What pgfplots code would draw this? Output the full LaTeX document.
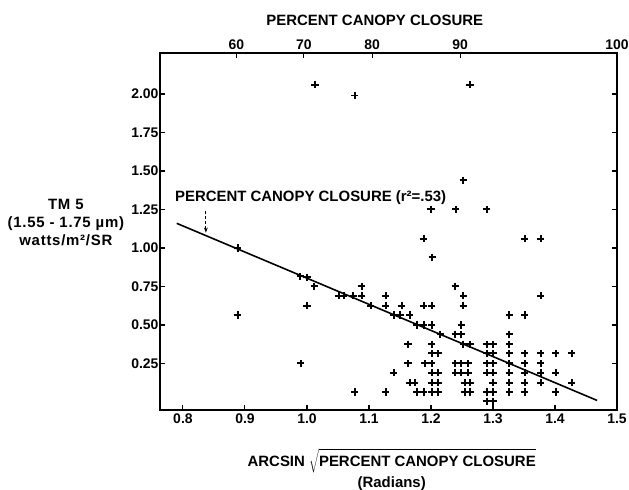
\documentclass[border=0pt]{standalone}
\usepackage{fontspec}
\setmainfont{Liberation Sans}
\newfontfamily\spaced[LetterSpace=5]{Liberation Sans}
\usepackage{pgfplots}
\pgfplotsset{compat=1.18}
\usetikzlibrary{arrows.meta}

\pgfplotstableread{
x y
1.013 2.06
1.077 1.99
1.263 2.06
1.252 1.44
1.200 1.25
1.240 1.25
1.290 1.25
1.188 1.06
1.202 0.94
1.351 1.06
1.377 1.06
1.377 0.69
0.888 1.00
0.888 0.565
0.989 0.815
1.000 0.81
1.000 0.625
1.012 0.75
0.990 0.25
1.051 0.69
1.059 0.69
1.075 0.69
1.088 0.75
1.088 0.69
1.103 0.625
1.127 0.69
1.127 0.625
1.077 0.065
1.127 0.065
1.140 0.565
1.150 0.565
1.166 0.565
1.153 0.625
1.140 0.19
1.163 0.375
1.163 0.25
1.166 0.125
1.174 0.125
1.188 0.625
1.201 0.625
1.177 0.50
1.188 0.50
1.201 0.50
1.201 0.375
1.201 0.315
1.212 0.315
1.190 0.25
1.201 0.25
1.201 0.19
1.212 0.19
1.201 0.125
1.212 0.125
1.177 0.065
1.188 0.065
1.201 0.065
1.212 0.065
1.215 0.44
1.239 0.75
1.252 0.69
1.252 0.625
1.249 0.50
1.239 0.44
1.249 0.44
1.252 0.375
1.263 0.375
1.239 0.25
1.249 0.25
1.260 0.25
1.239 0.19
1.249 0.19
1.260 0.19
1.255 0.125
1.263 0.125
1.255 0.065
1.263 0.065
1.290 0.375
1.300 0.375
1.290 0.315
1.300 0.315
1.290 0.25
1.300 0.25
1.290 0.19
1.300 0.19
1.300 0.125
1.290 0.065
1.300 0.065
1.290 0.005
1.300 0.005
1.326 0.565
1.326 0.44
1.326 0.375
1.326 0.315
1.326 0.25
1.326 0.19
1.326 0.125
1.326 0.065
1.351 0.565
1.351 0.315
1.351 0.25
1.351 0.19
1.351 0.125
1.351 0.065
1.377 0.315
1.377 0.25
1.377 0.19
1.377 0.125
1.401 0.315
1.401 0.19
1.401 0.065
1.427 0.315
1.427 0.125
}\canopy

\newcommand\lbl{\fontsize{15}{18}\selectfont\bfseries}
\newcommand\tkl{\fontsize{14}{16}\selectfont\bfseries}

\begin{document}
\begin{tikzpicture}
\path[use as bounding box] (-160bp,-80bp) rectangle (469bp,410bp);
\pgfplotsset{
  common/.style={
    width=457bp, height=357bp, scale only axis,
    at={(0,0)}, anchor=south west,
    xmin=0.763, xmax=1.5, ymin=-0.052, ymax=2.266,
    tick align=inside, major tick length=5bp,
    /pgf/number format/assume math mode=true,
    every tick/.style={line width=1.1pt, black},
    clip=false,
  }
}
\begin{axis}[common,
    axis line style={line width=1.2pt},
    xtick={0.8,0.9,...,1.5},
    xtick pos=bottom,
    xticklabel style={font=\tkl, /pgf/number format/.cd, fixed, fixed zerofill, precision=1},
    ytick={0.25,0.5,...,2.0},
    ytick pos=both, yticklabel pos=left,
    yticklabel style={font=\tkl, xshift=2bp, /pgf/number format/.cd, fixed, fixed zerofill, precision=2},
]
\addplot[only marks, mark=+, mark size=3.6, mark options={line width=2pt}] table[x=x, y=y] {\canopy};
\addplot[no marks, line width=1.6pt] coordinates {(0.790,1.16) (1.468,0.01)};
\node[anchor=west, font=\lbl, inner sep=0pt] at (axis cs:0.787,1.325) {PERCENT CANOPY CLOSURE (r²=.53)};
\draw[densely dashed, line width=0.8pt, -{Stealth[length=5bp]}] (axis cs:0.837,1.24) -- (axis cs:0.837,1.10);
\node[font=\lbl] at (axis description cs:0.507,-0.143) {ARCSIN $\sqrt{\rule[-6bp]{0pt}{22bp}\mbox{\lbl PERCENT CANOPY CLOSURE}}$};
\node[font=\lbl] at (axis description cs:0.507,-0.205) {(Radians)};
\node[font=\lbl\spaced, align=center] at (axis description cs:-0.206,0.524) {TM 5\\(1.55 - 1.75 µm)\\watts/m²/SR};
\node[font=\lbl] at (axis description cs:0.47,1.0) [yshift=33bp] {PERCENT CANOPY CLOSURE};
\end{axis}
\begin{axis}[common,
    axis line style={draw=none},
    xtick={0.886,0.995,1.105,1.247,1.5},
    xticklabels={60,70,80,90,100},
    xtick pos=top, xticklabel pos=top,
    xticklabel style={font=\tkl},
    ytick=\empty,
]
\end{axis}
\end{tikzpicture}
\end{document}
